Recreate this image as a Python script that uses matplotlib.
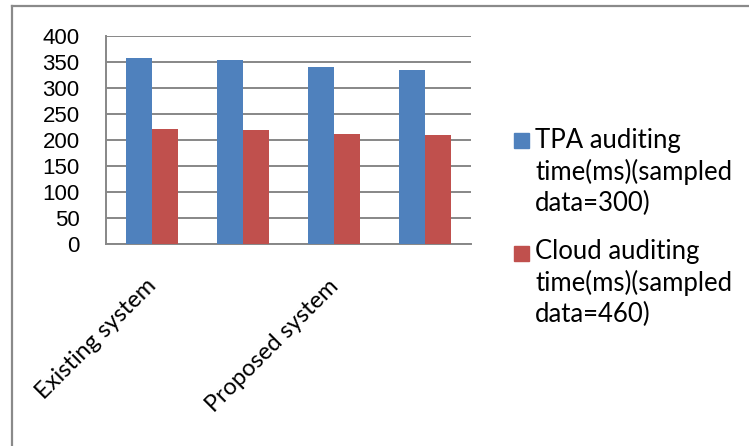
import matplotlib
matplotlib.use("Agg")
import matplotlib.pyplot as plt
from matplotlib.patches import Rectangle
from matplotlib.lines import Line2D
from matplotlib.transforms import ScaledTranslation
import numpy as np

categories = ["Existing system", "", "Proposed system", ""]
series_names = ["TPA auditing\ntime(ms)(sampled\ndata=300)",
                "Cloud auditing\ntime(ms)(sampled\ndata=460)"]
tpa_values = [357, 353, 340, 335]
cloud_values = [220, 218, 212, 210]
yticks = [0, 50, 100, 150, 200, 250, 300, 350, 400]

colors = ["#4F81BD", "#C0504D"]
grid_color = "#878787"

fig = plt.figure(figsize=(7.49, 4.46), dpi=100)
ax = fig.add_axes([106/749, 1-244/446, (471-106)/749, (244-35.7)/446])

x = np.arange(len(categories))
w = 0.285
ax.bar(x - w/2, tpa_values, width=w, color=colors[0], zorder=3)
ax.bar(x + w/2, cloud_values, width=w, color=colors[1], zorder=3)

ax.set_xlim(-0.5, len(categories) - 0.5)
ax.set_ylim(0, 400)
ax.set_yticks(yticks)
ax.set_yticklabels([str(v) for v in yticks], fontfamily="Liberation Sans", fontsize=16)
ax.yaxis.grid(True, color=grid_color, linewidth=1.4, zorder=0)
ax.tick_params(axis="y", length=0, pad=19)
ax.tick_params(axis="x", length=0, pad=0)
ax.set_xticks(x)
ax.set_xticklabels(categories, rotation=45, ha="right", va="top",
                   rotation_mode="anchor", fontfamily="Lato", fontsize=17)
offset = ScaledTranslation(-6/100, 0, fig.dpi_scale_trans)
for lbl in ax.get_xticklabels():
    lbl.set_y(-0.15)
    lbl.set_transform(lbl.get_transform() + offset)

for s in ["top", "right"]:
    ax.spines[s].set_visible(False)
for s in ["left", "bottom"]:
    ax.spines[s].set_color(grid_color)
    ax.spines[s].set_linewidth(1.4)

# legend drawn manually (baseline refers to last line)
leg_sq = [140, 253]
leg_base = [211.5, 322.5]
for i, (name, c) in enumerate(zip(series_names, colors)):
    yc = leg_sq[i]
    fig.patches.append(Rectangle((514/749, 1-(yc+7.5)/446), 15/749, 15/446,
                                 transform=fig.transFigure, color=c))
    fig.text(535/749, 1-leg_base[i]/446, name, fontfamily="Lato", fontsize=18.5,
             va="baseline", ha="left", linespacing=1.3)

# chart border (top and left)
fig.lines.append(Line2D([12/749, 12/749], [0, 1-6/446], transform=fig.transFigure,
                        color="#8a8a8a", linewidth=1.6))
fig.lines.append(Line2D([12/749, 1], [1-6/446, 1-6/446], transform=fig.transFigure,
                        color="#8a8a8a", linewidth=1.6))

fig.savefig("out.png", dpi=100)
